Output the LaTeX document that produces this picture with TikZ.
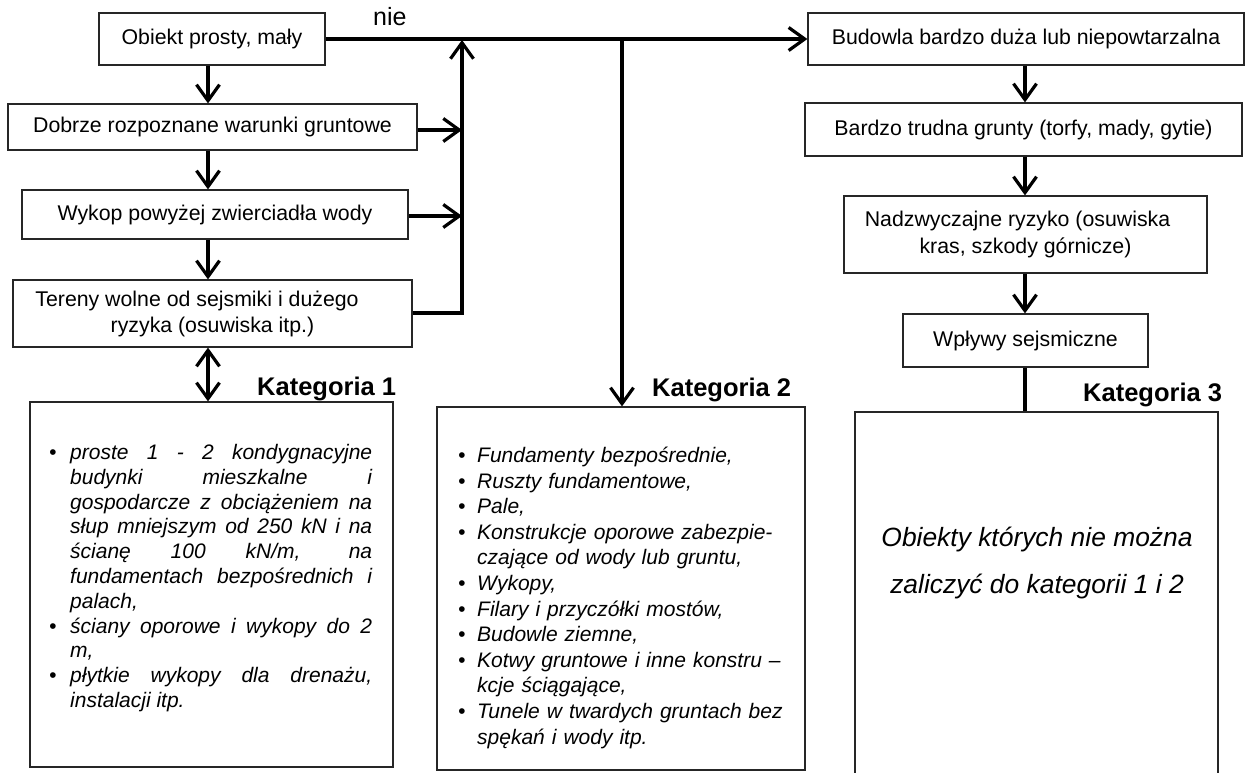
\documentclass[tikz,border=0pt]{standalone}
\usepackage{fontspec}
\setmainfont{Liberation Sans}
\usetikzlibrary{arrows.meta}
\newcommand{\firstA}{\hangindent=21pt\hangafter=1\makebox[21pt][l]{\textbullet}}
\newcommand{\bitemA}{\par\hangindent=21pt\hangafter=1\noindent\makebox[21pt][l]{\textbullet}}
\newcommand{\firstB}{\hangindent=19pt\hangafter=1\makebox[19pt][l]{\textbullet}}
\newcommand{\bitemB}{\par\hangindent=19pt\hangafter=1\noindent\makebox[19pt][l]{\textbullet}}
\tikzset{
  box/.style={draw=black!85, line width=1.2pt, inner sep=0pt, align=center,
    font=\fontsize{21.3}{26}\selectfont},
  catbox/.style={draw=black!85, line width=1.2pt, inner sep=0pt},
  tip/.tip={Straight Barb[length=16pt,width=23pt]},
  arr/.style={line width=3.2pt, -tip},
  darr/.style={line width=3.2pt, tip-tip},
  plain/.style={line width=3.2pt},
  cat/.style={anchor=base west, inner sep=0pt, font=\bfseries\fontsize{25.5}{30}\selectfont},
  listtext/.style={anchor=base west, inner sep=0pt}
}
\begin{document}
\begin{tikzpicture}[x=1pt,y=-1pt]
\useasboundingbox (0,0) rectangle (1248,773);
% left column
\node[box, minimum width=226pt, minimum height=52pt] (A) at (212,39) {Obiekt prosty, mały};
\node[box, minimum width=409pt, minimum height=46pt] (B) at (212.5,127) {Dobrze rozpoznane warunki gruntowe};
\node[box, minimum width=386pt, minimum height=49pt] (C) at (215,214.5) {Wykop powyżej zwierciadła wody};
\node[box, minimum width=399pt, minimum height=67pt] (D) at (212.5,313.5) {Tereny wolne od sejsmiki i dużego\hspace*{31pt}\\ryzyka (osuwiska itp.)};
% right column
\node[box, minimum width=436pt, minimum height=52pt] (E) at (1026,39) {Budowla bardzo duża lub niepowtarzalna};
\node[box, minimum width=437pt, minimum height=53pt] (F) at (1023.5,129.5) {Bardzo trudna grunty (torfy, mady, gytie)};
\node[box, minimum width=363pt, minimum height=77pt, font=\fontsize{21.3}{26.5}\selectfont] (G) at (1025.5,234.5) {Nadzwyczajne ryzyko (osuwiska\hspace*{16pt}\\kras, szkody górnicze)};
\node[box, minimum width=245pt, minimum height=53pt] (H) at (1025.5,340.5) {Wpływy sejsmiczne};
% category boxes
\node[catbox, minimum width=363pt, minimum height=365pt] (K1) at (211.5,584.5) {};
\node[catbox, minimum width=368pt, minimum height=363pt] (K2) at (621,588.5) {};
\node[catbox, minimum width=363pt, minimum height=364pt] (K3) at (1036.5,594) {};
% labels
\node[anchor=base west, inner sep=0pt, font=\fontsize{25}{30}\selectfont] (nie) at (373,25.7) {nie};
\node[cat] (c1) at (257,395.5) {Kategoria 1};
\node[cat] (c2) at (652,396.5) {Kategoria 2};
\node[cat] (c3) at (1083,401.5) {Kategoria 3};
% list texts
\node[listtext, text width=323pt, align=justify, font=\itshape\fontsize{21}{24.8}\selectfont] (t1) at (49,459.5) {%
\tolerance=10000\hyphenpenalty=10000\exhyphenpenalty=10000\firstA proste 1 - 2 kondygnacyjne\linebreak budynki mieszkalne i\linebreak gospodarcze z obciążeniem na\linebreak słup mniejszym od 250 kN i na\linebreak ścianę 100 kN/m, na\linebreak fundamentach bezpośrednich i\linebreak palach,
\bitemA ściany oporowe i wykopy do 2\linebreak m,
\bitemA płytkie wykopy dla drenażu,\linebreak instalacji itp.\par};
\node[listtext, text width=340pt, font=\itshape\fontsize{21}{25.6}\selectfont] (t2) at (458,462.5) {%
\tolerance=10000\hyphenpenalty=10000\exhyphenpenalty=10000\firstB Fundamenty bezpośrednie,
\bitemB Ruszty fundamentowe,
\bitemB Pale,
\bitemB Konstrukcje oporowe zabezpie-\newline czające od wody lub gruntu,
\bitemB Wykopy,
\bitemB Filary i przyczółki mostów,
\bitemB Budowle ziemne,
\bitemB Kotwy gruntowe i inne konstru –\newline kcje ściągające,
\bitemB Tunele w twardych gruntach bez\newline spękań i wody itp.\par};
\node[inner sep=0pt, align=center, font=\itshape\fontsize{26.4}{47}\selectfont] (t3) at (1037,563.5) {Obiekty których nie można\\zaliczyć do kategorii 1 i 2};
% coordinates
\coordinate (cA) at (208,0);
\coordinate (cR) at (1025,0);
\coordinate (j1) at (462,40);
\coordinate (j2) at (622,40);
\coordinate (jB) at (462,130);
\coordinate (jC) at (462,216);
\coordinate (jD) at (462,313);
% connectors
\draw[arr] (A.south -| cA) -- (B.north -| cA);
\draw[arr] (B.south -| cA) -- (C.north -| cA);
\draw[arr] (C.south -| cA) -- (D.north -| cA);
\draw[darr] (D.south -| cA) -- (K1.north -| cA);
\draw[arr] (A.east) -- (E.west);
\draw[arr] (B.east |- jB) -- (jB);
\draw[arr] (C.east |- jC) -- (jC);
\draw[arr, line join=miter] (D.east |- jD) -- (jD) -- (j1);
\draw[arr] (j2) -- (K2.north -| j2);
\draw[arr] (E.south -| cR) -- (F.north -| cR);
\draw[arr] (F.south -| cR) -- (G.north -| cR);
\draw[arr] (G.south -| cR) -- (H.north -| cR);
\draw[plain] (H.south -| cR) -- (K3.north -| cR);
\end{tikzpicture}
\end{document}
